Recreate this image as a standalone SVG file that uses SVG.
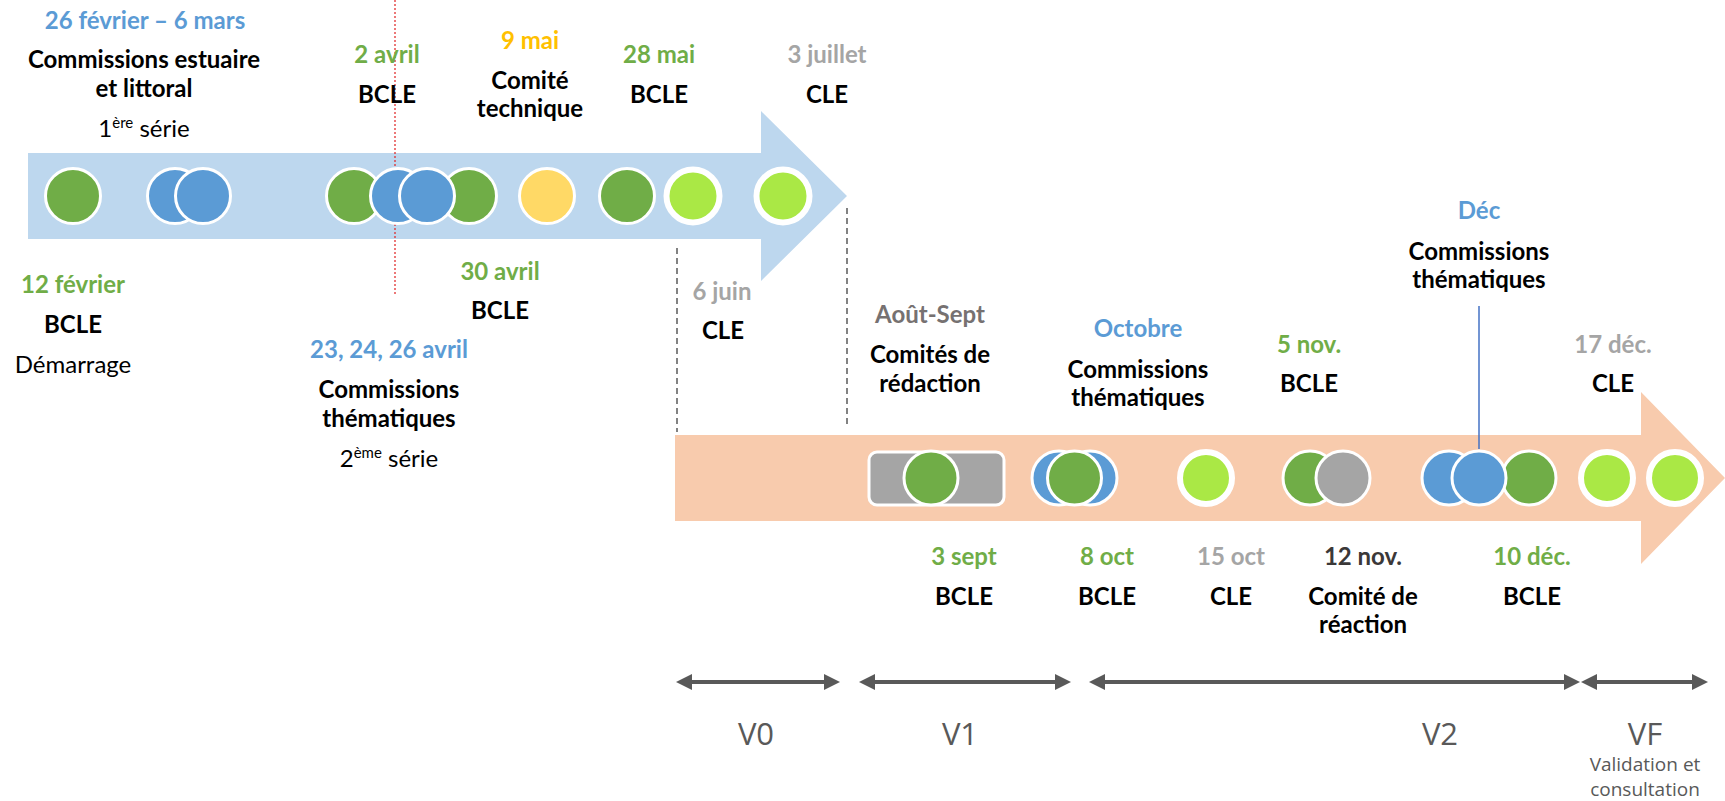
<svg xmlns="http://www.w3.org/2000/svg" width="1725" height="801" viewBox="0 0 1725 801">
<style>
text{font-family:Lato,"Liberation Sans",sans-serif;text-anchor:middle;font-size:24px}
.b{font-weight:bold;fill:#000}
.r{fill:#000}
.dg{font-weight:bold;fill:#70AD47}
.db{font-weight:bold;fill:#5B9BD5}
.dy{font-weight:bold;fill:#FFC000}
.dgr{font-weight:bold;fill:#A5A5A5}
.dk{font-weight:bold;fill:#767171}
.dk2{font-weight:bold;fill:#3B3838}
.v{font-family:"Open Sans","Liberation Sans",sans-serif;font-size:31px;fill:#595959}
.vs{font-family:"Open Sans","Liberation Sans",sans-serif;font-size:19px;fill:#595959}
.cg{fill:#70AD47;stroke:#fff;stroke-width:3}
.cb{fill:#5B9BD5;stroke:#fff;stroke-width:3}
.cy{fill:#FFD966;stroke:#fff;stroke-width:3}
.cgr{fill:#A5A5A5;stroke:#fff;stroke-width:3}
.cl{fill:#AAE845;stroke:#fff;stroke-width:6}
.dash{stroke:#595959;stroke-width:1.5;stroke-dasharray:6 4;fill:none}
.dbl{stroke:#595959;stroke-width:4;fill:none;marker-start:url(#ah);marker-end:url(#ah)}
</style>
<defs>
<marker id="ah" viewBox="0 0 10 10" refX="5" refY="5" markerWidth="4" markerHeight="4" orient="auto-start-reverse" markerUnits="strokeWidth">
<path d="M0,0 L10,5 L0,10 Z" fill="#595959"/>
</marker>
</defs>
<rect width="1725" height="801" fill="#fff"/>
<g id="bands">
<path d="M28,153 H761 V111 L847,196 L761,281 V239 H28 Z" fill="#BDD7EE"/>
<path d="M675,435 H1641 V392 L1725,478 L1641,564 V521 H675 Z" fill="#F8CBAD"/>
</g>
<g id="connectors">
<line x1="395" y1="0" x2="395" y2="296" stroke="#E02020" stroke-width="1.2" stroke-dasharray="2 2"/>
<line x1="677" y1="248" x2="677" y2="432" class="dash"/>
<line x1="847" y1="208" x2="847" y2="427" class="dash"/>
<line x1="1479" y1="306" x2="1479" y2="449" stroke="#4472C4" stroke-width="1.5"/>
<line x1="684" y1="682" x2="832" y2="682" class="dbl"/>
<line x1="867" y1="682" x2="1063" y2="682" class="dbl"/>
<line x1="1097" y1="682" x2="1572" y2="682" class="dbl"/>
<line x1="1589" y1="682" x2="1700" y2="682" class="dbl"/>
</g>
<g id="n-12fev">
<circle class="cg" cx="73" cy="196" r="27.5"/>
<text class="dg" x="73" y="293">12 février</text>
<text class="b" x="73" y="333">BCLE</text>
<text class="r" x="73" y="373">Démarrage</text>
</g>
<g id="n-commissions1">
<circle class="cb" cx="175" cy="196" r="27.5"/>
<circle class="cb" cx="203" cy="196" r="27.5"/>
<text class="db" x="145" y="29">26 février – 6 mars</text>
<text class="b" x="144" y="68">Commissions estuaire</text>
<text class="b" x="144" y="97">et littoral</text>
<text class="r" x="144" y="137">1<tspan font-size="15" dy="-9">ère</tspan><tspan dy="9"> série</tspan></text>
</g>
<g id="n-2avril">
<circle class="cg" cx="354" cy="196" r="27.5"/>
<text class="dg" x="387" y="63">2 avril</text>
<text class="b" x="387" y="103">BCLE</text>
</g>
<g id="n-30avril">
<circle class="cg" cx="469" cy="196" r="27.5"/>
<text class="dg" x="500" y="280">30 avril</text>
<text class="b" x="500" y="319">BCLE</text>
</g>
<g id="n-commissions2">
<circle class="cb" cx="398" cy="196" r="27.5"/>
<circle class="cb" cx="427" cy="196" r="27.5"/>
<text class="db" x="389" y="358">23, 24, 26 avril</text>
<text class="b" x="389" y="398">Commissions</text>
<text class="b" x="389" y="427">thématiques</text>
<text class="r" x="389" y="467">2<tspan font-size="15" dy="-9">ème</tspan><tspan dy="9"> série</tspan></text>
</g>
<g id="n-9mai">
<circle class="cy" cx="547" cy="196" r="27.5"/>
<text class="dy" x="530" y="49">9 mai</text>
<text class="b" x="530" y="89">Comité</text>
<text class="b" x="530" y="117">technique</text>
</g>
<g id="n-28mai">
<circle class="cg" cx="627" cy="196" r="27.5"/>
<text class="dg" x="659" y="63">28 mai</text>
<text class="b" x="659" y="103">BCLE</text>
</g>
<g id="n-6juin">
<circle class="cl" cx="693" cy="196" r="26.5"/>
<text class="dgr" x="722" y="300">6 juin</text>
<text class="b" x="723" y="339">CLE</text>
</g>
<g id="n-3juillet">
<circle class="cl" cx="783" cy="196" r="26.5"/>
<text class="dgr" x="827" y="63">3 juillet</text>
<text class="b" x="827" y="103">CLE</text>
</g>
<g id="n-aout-sept">
<rect x="869" y="452" width="135" height="53" rx="8" fill="#A5A5A5" stroke="#fff" stroke-width="3"/>
<text class="dk" x="930" y="323">Août-Sept</text>
<text class="b" x="930" y="363">Comités de</text>
<text class="b" x="930" y="392">rédaction</text>
</g>
<g id="n-3sept">
<circle class="cg" cx="931" cy="478" r="27"/>
<text class="dg" x="964" y="565">3 sept</text>
<text class="b" x="964" y="605">BCLE</text>
</g>
<g id="n-octobre">
<circle class="cb" cx="1059" cy="478" r="27"/>
<circle class="cb" cx="1090" cy="478" r="27"/>
<text class="db" x="1138" y="337">Octobre</text>
<text class="b" x="1138" y="378">Commissions</text>
<text class="b" x="1138" y="406">thématiques</text>
</g>
<g id="n-8oct">
<circle class="cg" cx="1074.5" cy="478" r="27"/>
<text class="dg" x="1107" y="565">8 oct</text>
<text class="b" x="1107" y="605">BCLE</text>
</g>
<g id="n-15oct">
<circle class="cl" cx="1206" cy="478" r="26"/>
<text class="dgr" x="1231" y="565">15 oct</text>
<text class="b" x="1231" y="605">CLE</text>
</g>
<g id="n-5nov">
<circle class="cg" cx="1310" cy="478" r="27"/>
<text class="dg" x="1309" y="353">5 nov.</text>
<text class="b" x="1309" y="392">BCLE</text>
</g>
<g id="n-12nov">
<circle class="cgr" cx="1343" cy="478" r="27"/>
<text class="dk2" x="1363" y="565">12 nov.</text>
<text class="b" x="1363" y="605">Comité de</text>
<text class="b" x="1363" y="633">réaction</text>
</g>
<g id="n-10dec">
<circle class="cg" cx="1529" cy="478" r="27"/>
<text class="dg" x="1532" y="565">10 déc.</text>
<text class="b" x="1532" y="605">BCLE</text>
</g>
<g id="n-dec">
<circle class="cb" cx="1449" cy="478" r="27"/>
<circle class="cb" cx="1479" cy="478" r="27"/>
<text class="db" x="1479" y="219">Déc</text>
<text class="b" x="1479" y="260">Commissions</text>
<text class="b" x="1479" y="288">thématiques</text>
</g>
<g id="n-17dec">
<circle class="cl" cx="1607" cy="478" r="26"/>
<circle class="cl" cx="1675" cy="478" r="26"/>
<text class="dgr" x="1613" y="353">17 déc.</text>
<text class="b" x="1613" y="392">CLE</text>
</g>
<g id="phases">
<text class="v" x="756" y="745">V0</text>
<text class="v" x="960" y="745">V1</text>
<text class="v" x="1440" y="745">V2</text>
<text class="v" x="1645" y="745">VF</text>
<text class="vs" x="1645" y="771">Validation et</text>
<text class="vs" x="1645" y="796">consultation</text>
</g>
</svg>
